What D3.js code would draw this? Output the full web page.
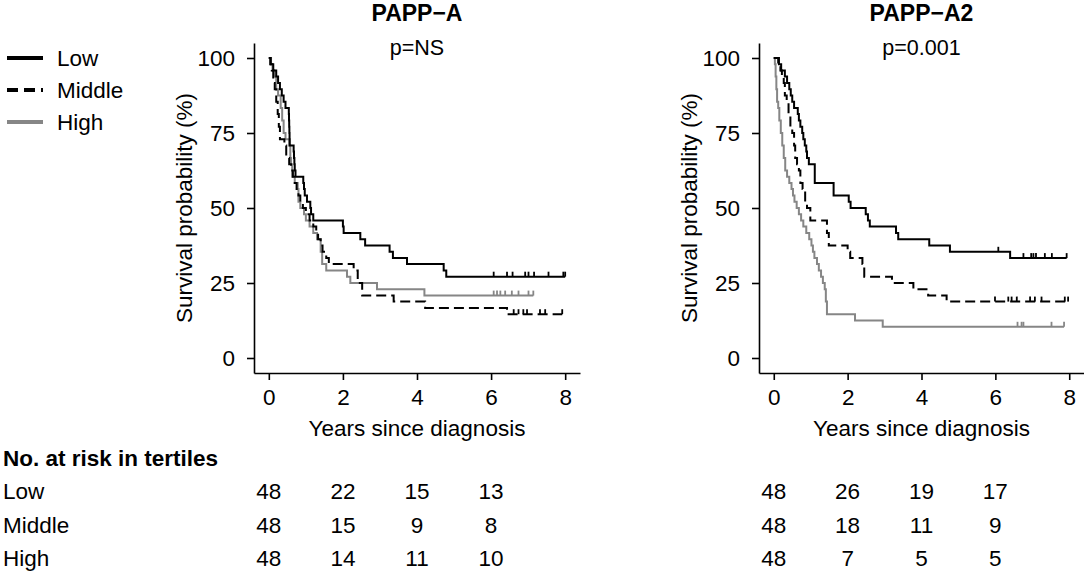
<!DOCTYPE html>
<html>
<head>
<meta charset="utf-8">
<script src="https://cdn.jsdelivr.net/npm/d3@7"></script>
<style>
  body { margin: 0; background: #fff; }
  svg text { font-family: "Liberation Sans", Arial, sans-serif; fill: #000; }
</style>
</head>
<body>
<svg id="chart" width="1084" height="575"></svg>
<script>
// groups (tertiles)
var groups = ["Low", "Middle", "High"];

// PAPP-A: step points [years, survival %]
var lowA = [[0,100],[0.05,97.9],[0.12,95.8],[0.2,93.8],[0.25,91.7],[0.3,89.6],[0.35,87.5],[0.4,85.4],[0.45,83.3],
  [0.54,81.3],[0.545,79.2],[0.55,77.1],[0.555,75],[0.56,72.9],[0.565,70.8],[0.67,68.8],[0.68,66.7],[0.69,64.6],
  [0.7,62.5],[0.72,60.4],[0.93,58.3],[0.95,56.3],[0.97,54.2],[1.03,52.1],[1.12,50],[1.14,47.9],[1.2,45.8],
  [2.0,43.8],[2.02,41.7],[2.47,39.6],[2.6,37.5],[3.26,35.4],[3.35,33.3],[3.73,31.3],[4.72,29.2],[4.79,27.1]];
var midA = [[0,100],[0.04,97.9],[0.08,95.8],[0.12,91.7],[0.16,89.6],[0.2,85.4],[0.24,81.3],[0.27,77.1],[0.3,72.9],
  [0.42,70.8],[0.47,66.7],[0.55,64.6],[0.6,62.5],[0.65,60.4],[0.7,58.3],[0.75,56.3],[0.8,54.2],[0.85,52.1],
  [0.92,50],[1.0,47.9],[1.1,45.8],[1.2,43.8],[1.28,41.7],[1.33,39.6],[1.4,37.5],[1.45,35.4],[1.55,33.3],
  [1.62,31.3],[2.29,29.2],[2.4,25],[2.52,20.8],[3.37,18.8],[4.22,16.7],[6.43,14.6]];
var highA = [[0,100],[0.06,97.9],[0.1,95.8],[0.15,93.8],[0.2,89.6],[0.25,87.5],[0.32,83.3],[0.36,79.2],[0.4,75],
  [0.45,72.9],[0.55,70.8],[0.58,66.7],[0.6,64.6],[0.63,60.4],[0.7,58.3],[0.78,56.3],[0.8,52.1],[0.85,50],
  [0.95,47.9],[1.0,45.8],[1.1,43.8],[1.2,41.7],[1.3,39.6],[1.4,35.4],[1.44,31.3],[1.55,29.2],[2.11,27.1],
  [2.2,25],[2.92,22.9],[4.2,20.8]];
// censored times
var lowACens = [6.07,6.43,6.58,6.92,7.01,7.16,7.55,7.95,8.0];
var midACens = [6.61,6.74,6.87,6.97,7.32,7.46,7.92];
var highACens = [6.07,6.16,6.25,6.38,6.56,6.74,7.01,7.14];

// PAPP-A2
var lowB = [[0,100],[0.14,97.9],[0.2,95.8],[0.3,93.8],[0.36,91.7],[0.42,89.6],[0.46,87.5],[0.5,85.4],[0.55,83.3],
  [0.65,81.3],[0.68,79.2],[0.72,77.1],[0.77,75],[0.8,72.9],[0.84,70.8],[0.88,68.8],[0.9,66.7],[0.95,64.6],
  [1.11,58.3],[1.62,54.2],[2.03,52.1],[2.08,50],[2.49,47.9],[2.55,45.8],[2.6,43.8],[3.31,41.7],[3.37,39.6],
  [4.21,37.5],[4.77,35.4],[6.4,33.3]];
var midB = [[0,100],[0.12,97.9],[0.18,95.8],[0.22,93.8],[0.27,91.7],[0.3,87.5],[0.35,85.4],[0.4,81.3],[0.45,77.1],
  [0.5,75],[0.55,70.8],[0.58,66.7],[0.63,64.6],[0.68,62.5],[0.72,58.3],[0.78,56.3],[0.85,52.1],[0.9,50],
  [0.99,45.8],[1.44,41.7],[1.49,37.5],[2.0,35.4],[2.07,33.3],[2.4,31.3],[2.45,27.1],[3.2,25],[3.78,22.9],
  [4.18,20.8],[4.68,18.8]];
var highB = [[0,100],[0.03,97.9],[0.05,93.8],[0.07,89.6],[0.09,85.4],[0.12,83.3],[0.15,79.2],[0.19,75],[0.23,70.8],
  [0.27,66.7],[0.31,62.5],[0.36,60.4],[0.42,58.3],[0.48,56.3],[0.52,54.2],[0.56,52.1],[0.62,50],[0.68,47.9],
  [0.74,45.8],[0.8,43.8],[0.88,41.7],[0.96,39.6],[1.02,37.5],[1.06,35.4],[1.1,33.3],[1.17,31.3],[1.22,29.2],
  [1.28,27.1],[1.33,25],[1.38,22.9],[1.41,18.8],[1.44,14.6],[2.2,12.5],[2.95,10.4]];
var lowBCens = [6.08,6.76,6.97,7.03,7.1,7.34,7.53,7.93];
var midBCens = [5.99,6.35,6.44,6.58,6.94,7.07,7.25,7.88,7.97];
var highBCens = [6.6,6.71,6.76,7.52,7.86];

// numbers at risk
var riskTimes = [0, 2, 4, 6];
var riskLowA = [48, 22, 15, 13], riskMidA = [48, 15, 9, 8], riskHighA = [48, 14, 11, 10];
var riskLowB = [48, 26, 19, 17], riskMidB = [48, 18, 11, 9], riskHighB = [48, 7, 5, 5];

var xTicks = [0, 2, 4, 6, 8];
var yTicks = [0, 25, 50, 75, 100];

var styles = {
  Low: { color: "#000", dash: null },
  Middle: { color: "#000", dash: "10,5" },
  High: { color: "#868686", dash: null }
};

var svg = d3.select("#chart");
var fs = 22.5;

var panels = [
  { title: "PAPP\u2212A", p: "p=NS", left: 254, right: 580,
    curves: { Low: lowA, Middle: midA, High: highA },
    cens: { Low: lowACens, Middle: midACens, High: highACens },
    risk: { Low: riskLowA, Middle: riskMidA, High: riskHighA } },
  { title: "PAPP\u2212A2", p: "p=0.001", left: 759, right: 1084,
    curves: { Low: lowB, Middle: midB, High: highB },
    cens: { Low: lowBCens, Middle: midBCens, High: highBCens },
    risk: { Low: riskLowB, Middle: riskMidB, High: riskHighB } }
];

var y = d3.scaleLinear().domain([-5, 105]).range([373, 43]);
var rowY = { Low: 499, Middle: 533, High: 566 };

function survAt(steps, t) {
  var s = steps[0][1];
  steps.forEach(function (d) { if (d[0] <= t) s = d[1]; });
  return s;
}

panels.forEach(function (p) {
  var x = d3.scaleLinear().domain([-0.4, 8.4]).range([p.left, p.right]);
  var g = svg.append("g");

  var yAxis = g.append("g")
    .attr("transform", "translate(" + p.left + ",0)")
    .call(d3.axisLeft(y).tickValues(yTicks).tickSize(7).tickSizeOuter(0).tickPadding(12));
  var xAxis = g.append("g")
    .attr("transform", "translate(0," + y(-5) + ")")
    .call(d3.axisBottom(x).tickValues(xTicks).tickSize(7).tickSizeOuter(0).tickPadding(9));
  [yAxis, xAxis].forEach(function (a) {
    a.selectAll("path, line").attr("stroke", "#000").attr("stroke-width", 1.6);
    a.selectAll("text").style("font-size", fs + "px").attr("fill", "#000");
  });

  var mid = (x(0) + x(8)) / 2;
  g.append("text").attr("x", mid).attr("y", 21).attr("text-anchor", "middle")
    .style("font-size", "23px").style("font-weight", "bold").text(p.title);
  g.append("text").attr("x", mid).attr("y", 55).attr("text-anchor", "middle")
    .style("font-size", "21.5px").text(p.p);

  g.append("text")
    .attr("transform", "translate(" + (p.left - 62) + "," + y(50) + ") rotate(-90)")
    .attr("text-anchor", "middle").style("font-size", fs + "px")
    .text("Survival probability (%)");
  g.append("text").attr("x", mid).attr("y", 436).attr("text-anchor", "middle")
    .style("font-size", fs + "px").text("Years since diagnosis");

  var line = d3.line()
    .x(function (d) { return x(d[0]); })
    .y(function (d) { return y(d[1]); })
    .curve(d3.curveStepAfter);

  ["High", "Middle", "Low"].forEach(function (k) {
    var steps = p.curves[k];
    var cens = p.cens[k];
    var end = d3.max(cens);
    var pts = steps.concat([[end, steps[steps.length - 1][1]]]);
    g.append("path")
      .attr("d", line(pts))
      .attr("fill", "none")
      .attr("stroke", styles[k].color)
      .attr("stroke-width", 2)
      .attr("stroke-dasharray", styles[k].dash);
    g.selectAll(null).data(cens).enter().append("line")
      .attr("x1", function (d) { return x(d); })
      .attr("x2", function (d) { return x(d); })
      .attr("y1", function (d) { return y(survAt(steps, d)); })
      .attr("y2", function (d) { return y(survAt(steps, d)) - 5; })
      .attr("stroke", styles[k].color)
      .attr("stroke-width", 1.8);
  });

  groups.forEach(function (k) {
    g.selectAll(null).data(p.risk[k]).enter().append("text")
      .attr("x", function (d, i) { return x(riskTimes[i]); })
      .attr("y", rowY[k])
      .attr("text-anchor", "middle")
      .style("font-size", fs + "px")
      .text(function (d) { return d; });
  });
});

// legend
var legY = { Low: 58, Middle: 90, High: 122 };
groups.forEach(function (k) {
  svg.append("line")
    .attr("x1", 7).attr("x2", 43)
    .attr("y1", legY[k]).attr("y2", legY[k])
    .attr("stroke", styles[k].color)
    .attr("stroke-width", 4)
    .attr("stroke-dasharray", k === "Middle" ? "11,6" : null);
  svg.append("text").attr("x", 57).attr("y", legY[k] + 7.5)
    .style("font-size", fs + "px").text(k);
});

// numbers at risk table labels
svg.append("text").attr("x", 3).attr("y", 466)
  .style("font-size", fs + "px").style("font-weight", "bold")
  .text("No. at risk in tertiles");
groups.forEach(function (k) {
  svg.append("text").attr("x", 3).attr("y", rowY[k])
    .style("font-size", fs + "px").text(k);
});
</script>
</body>
</html>
